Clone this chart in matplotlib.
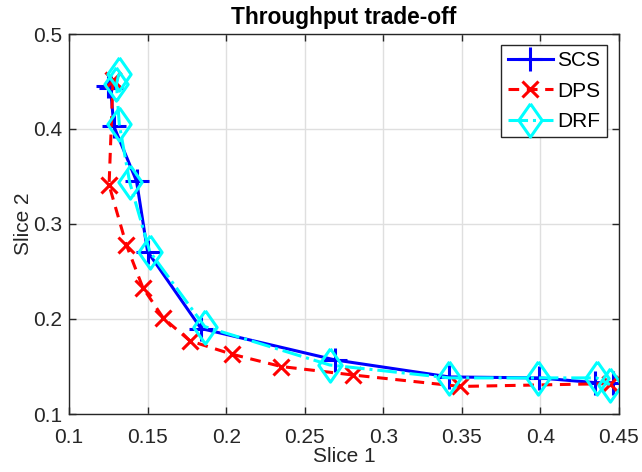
import numpy as np
import matplotlib
matplotlib.use('Agg')
import matplotlib.pyplot as plt

# Точки кривых
scs_x = [0.125, 0.1265, 0.1285, 0.143, 0.150, 0.184, 0.269, 0.342, 0.399, 0.435, 0.4465]
scs_y = [0.445, 0.443, 0.403, 0.345, 0.271, 0.190, 0.157, 0.139, 0.138, 0.133, 0.133]

dps_x = [0.128, 0.1255, 0.1365, 0.147, 0.160, 0.177, 0.2035, 0.235, 0.281, 0.349, 0.444]
dps_y = [0.452, 0.341, 0.278, 0.233, 0.201, 0.177, 0.163, 0.150, 0.141, 0.129, 0.132]

drf_x = [0.1317, 0.1302, 0.132, 0.1386, 0.1514, 0.1864, 0.2659, 0.342, 0.3985, 0.4357, 0.4442]
drf_y = [0.458, 0.447, 0.405, 0.344, 0.271, 0.192, 0.1516, 0.138, 0.138, 0.138, 0.131]

labels = ['SCS', 'DPS', 'DRF']

plt.rcParams['font.family'] = ['Liberation Sans', 'DejaVu Sans']

fig = plt.figure(figsize=(6.42, 4.72), dpi=100)
ax = fig.add_axes([69 / 642, 58 / 472, 550 / 642, 380 / 472])

diamond = [(0, 1), (0.7, 0), (0, -1), (-0.7, 0), (0, 1)]

ax.plot(scs_x, scs_y, '-', color='#0000ff', lw=2.2, marker='+', ms=17, mew=2.2,
        label=labels[0])
ax.plot(dps_x, dps_y, '--', color='#ff0000', lw=2.2, marker='x', ms=12, mew=2.2,
        label=labels[1], dashes=(3.5, 2.5))
ax.plot(drf_x, drf_y, '-.', color='#00ffff', lw=2.2, marker=diamond, ms=24, mew=2.2,
        mfc='none', label=labels[2])

ax.set_xlim(0.1, 0.45)
ax.set_ylim(0.1, 0.5)
ax.set_xticks(np.arange(0.1, 0.451, 0.05))
ax.set_yticks(np.arange(0.1, 0.501, 0.1))
ax.set_xticklabels(['0.1', '0.15', '0.2', '0.25', '0.3', '0.35', '0.4', '0.45'])
ax.set_yticklabels(['0.1', '0.2', '0.3', '0.4', '0.5'])

ax.grid(True, color='#dfdfdf', lw=1)
ax.set_axisbelow(True)
ax.tick_params(direction='in', length=5, width=1, top=True, right=True,
               labelsize=15, colors='#262626')
ax.tick_params(axis='x', pad=10)
ax.tick_params(axis='y', pad=5)
for s in ax.spines.values():
    s.set_color('#262626')
    s.set_linewidth(1)

ax.set_title('Throughput trade-off', fontsize=16.4, fontweight='bold', pad=7)
ax.set_xlabel('Slice 1', fontsize=15, color='#262626')
ax.set_ylabel('Slice 2', fontsize=15, color='#262626')
ax.xaxis.set_label_coords(0.5, -0.087)
ax.yaxis.set_label_coords(-0.066, 0.5)

leg = ax.legend(loc='upper right', bbox_to_anchor=(0.978, 0.971), borderaxespad=0,
                fontsize=15, handlelength=2.2, handletextpad=0.2, labelspacing=0.55,
                borderpad=0.3, fancybox=False, framealpha=1, edgecolor='#262626')
leg.get_frame().set_linewidth(1)

fig.savefig('out.png', dpi=100)
